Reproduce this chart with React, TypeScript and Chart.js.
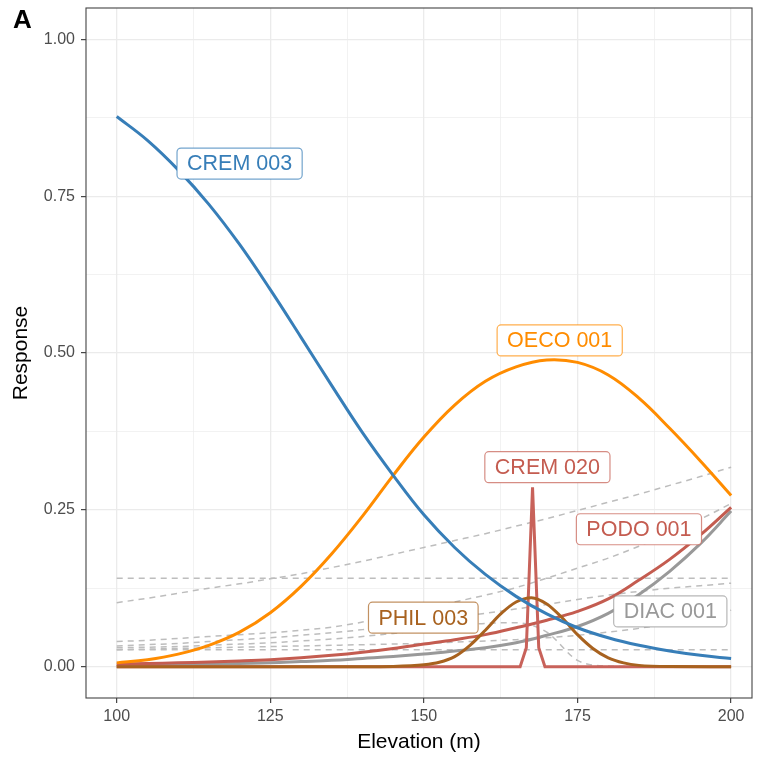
import React, { useEffect, useRef } from 'react';
import { Chart, registerables } from 'chart.js';

Chart.register(...registerables);

const FONT = '"Liberation Sans", Arial, sans-serif';

// x values (Elevation, m)
const elevation = [100, 105, 110, 115, 120, 125, 130, 135, 140, 145, 150, 155, 160, 165, 170, 175, 180, 185, 190, 195, 200];

// Highlighted species responses
const crem003 = [0.877, 0.839, 0.792, 0.737, 0.673, 0.601, 0.525, 0.448, 0.373, 0.305, 0.242, 0.19, 0.147, 0.112, 0.084, 0.062, 0.046, 0.034, 0.025, 0.018, 0.013];
const oeco001 = [0.006, 0.011, 0.02, 0.034, 0.055, 0.086, 0.128, 0.18, 0.24, 0.305, 0.366, 0.417, 0.455, 0.478, 0.489, 0.485, 0.465, 0.428, 0.38, 0.328, 0.273];
const podo001 = [0.004, 0.005, 0.006, 0.0075, 0.009, 0.011, 0.014, 0.018, 0.023, 0.029, 0.036, 0.043, 0.051, 0.062, 0.074, 0.088, 0.108, 0.138, 0.171, 0.21, 0.254];
const diac001 = [0.001, 0.002, 0.003, 0.004, 0.005, 0.006, 0.008, 0.01, 0.013, 0.016, 0.02, 0.025, 0.03, 0.038, 0.05, 0.064, 0.085, 0.115, 0.152, 0.196, 0.248];

const philElevation = [100, 140, 145, 150, 152.5, 155, 157.5, 160, 162.5, 165, 167.5, 170, 172.5, 175, 177.5, 180, 182.5, 185, 190, 200];
const phil003 = [0, 0, 0.0004, 0.003, 0.007, 0.016, 0.034, 0.058, 0.084, 0.103, 0.11, 0.1, 0.078, 0.051, 0.029, 0.014, 0.006, 0.002, 0.0002, 0];

const crem020Elevation = [100, 165.66, 166.67, 167.68, 168.69, 169.7, 200];
const crem020 = [0, 0, 0.03, 0.286, 0.03, 0, 0];

// Other species (grey dashed)
const otherA = [0.141, 0.141, 0.141, 0.141, 0.141, 0.141, 0.141, 0.141, 0.141, 0.141, 0.141, 0.141, 0.141, 0.141, 0.141, 0.141, 0.141, 0.141, 0.141, 0.141, 0.141];
const otherB = [0.102, 0.109, 0.117, 0.125, 0.132, 0.14, 0.148, 0.158, 0.168, 0.179, 0.19, 0.201, 0.212, 0.224, 0.236, 0.249, 0.262, 0.275, 0.289, 0.303, 0.318];
const otherC = [0.04, 0.042, 0.045, 0.048, 0.051, 0.054, 0.058, 0.063, 0.071, 0.081, 0.092, 0.103, 0.114, 0.126, 0.141, 0.157, 0.173, 0.192, 0.212, 0.235, 0.26];
const otherD = [0.033, 0.035, 0.037, 0.04, 0.043, 0.046, 0.05, 0.054, 0.059, 0.065, 0.071, 0.078, 0.085, 0.092, 0.099, 0.107, 0.114, 0.12, 0.125, 0.129, 0.133];
const otherE = [0.027, 0.027, 0.027, 0.027, 0.027, 0.027, 0.027, 0.027, 0.027, 0.027, 0.027, 0.027, 0.027, 0.027, 0.027, 0.027, 0.027, 0.027, 0.027, 0.027, 0.027];
const otherF = [0.03, 0.031, 0.032, 0.034, 0.036, 0.038, 0.041, 0.044, 0.048, 0.053, 0.058, 0.064, 0.069, 0.07, 0.055, 0.01, 0.001, 0, 0, 0, 0];
const otherG = [0.027, 0.028, 0.029, 0.03, 0.031, 0.032, 0.033, 0.034, 0.035, 0.036, 0.037, 0.039, 0.041, 0.043, 0.046, 0.05, 0.055, 0.061, 0.069, 0.078, 0.09];

// Curve labels
const labelNames = ['CREM 003', 'OECO 001', 'CREM 020', 'PODO 001', 'PHIL 003', 'DIAC 001'];
const labelX = [120.0, 172.1, 170.1, 185.0, 149.9, 190.1];
const labelY = [0.802, 0.52, 0.318, 0.219, 0.078, 0.088];
const labelColors = ['#377EB8', '#FF8C00', '#C45C50', '#C45C50', '#A8621F', '#999999'];

const xTicks = [100, 125, 150, 175, 200];
const yTicks = [0, 0.25, 0.5, 0.75, 1];

const isMajor = (v: number, list: number[]) => list.some((t) => Math.abs(t - v) < 1e-6);

const pts = (xs: number[], ys: number[]) => xs.map((x, i) => ({ x, y: ys[i] }));

const decorPlugin = {
  id: 'decor',
  afterDatasetsDraw(chart: any) {
    const { ctx, chartArea, scales } = chart;
    const x = scales.x;
    const y = scales.y;
    ctx.save();
    ctx.strokeStyle = '#444444';
    ctx.lineWidth = 1.1;
    ctx.strokeRect(chartArea.left, chartArea.top, chartArea.right - chartArea.left, chartArea.bottom - chartArea.top);
    ctx.font = `21.5px ${FONT}`;
    ctx.textAlign = 'center';
    ctx.textBaseline = 'middle';
    labelNames.forEach((name, i) => {
      const cx = x.getPixelForValue(labelX[i]);
      const cy = y.getPixelForValue(labelY[i]);
      const w = ctx.measureText(name).width + 20;
      const h = 31;
      const l = cx - w / 2;
      const t = cy - h / 2;
      const r = 4;
      ctx.beginPath();
      ctx.moveTo(l + r, t);
      ctx.lineTo(l + w - r, t);
      ctx.arcTo(l + w, t, l + w, t + r, r);
      ctx.lineTo(l + w, t + h - r);
      ctx.arcTo(l + w, t + h, l + w - r, t + h, r);
      ctx.lineTo(l + r, t + h);
      ctx.arcTo(l, t + h, l, t + h - r, r);
      ctx.lineTo(l, t + r);
      ctx.arcTo(l, t, l + r, t, r);
      ctx.closePath();
      ctx.fillStyle = '#ffffff';
      ctx.fill();
      ctx.globalAlpha = 0.7;
      ctx.strokeStyle = labelColors[i];
      ctx.lineWidth = 1.2;
      ctx.stroke();
      ctx.globalAlpha = 1;
      ctx.fillStyle = labelColors[i];
      ctx.fillText(name, cx, cy + 1);
    });
    ctx.textAlign = 'left';
    ctx.textBaseline = 'alphabetic';
    ctx.fillStyle = '#000000';
    ctx.font = `bold 26px ${FONT}`;
    ctx.fillText('A', 13, 28);
    ctx.restore();
  },
};

export default function App() {
  const ref = useRef<HTMLCanvasElement | null>(null);

  useEffect(() => {
    document.body.style.margin = '0';
    const canvas = ref.current;
    if (!canvas) return;

    const dashed = (data: number[]) => ({
      data: pts(elevation, data),
      borderColor: '#bdbdbd',
      borderWidth: 1.5,
      borderDash: [6, 5],
      cubicInterpolationMode: 'monotone' as const,
      pointRadius: 0,
      order: 20,
    });
    const smooth = (xs: number[], ys: number[], color: string, order: number) => ({
      data: pts(xs, ys),
      borderColor: color,
      borderWidth: 3,
      tension: 0.4,
      pointRadius: 0,
      order,
    });

    const chart = new Chart(canvas, {
      type: 'line',
      data: {
        datasets: [
          dashed(otherA),
          dashed(otherB),
          dashed(otherC),
          dashed(otherD),
          dashed(otherE),
          dashed(otherF),
          dashed(otherG),
          smooth(elevation, diac001, '#999999', 10),
          smooth(elevation, podo001, '#C45C50', 9),
          { data: pts(crem020Elevation, crem020), borderColor: '#C8625A', borderWidth: 3, tension: 0, pointRadius: 0, order: 8 },
          { data: pts(philElevation, phil003), borderColor: '#A8621F', borderWidth: 3, cubicInterpolationMode: 'monotone', pointRadius: 0, order: 7 },
          smooth(elevation, oeco001, '#FF8C00', 6),
          smooth(elevation, crem003, '#377EB8', 5),
        ] as any,
      },
      options: {
        animation: false,
        responsive: false,
        maintainAspectRatio: false,
        layout: { padding: { top: 8, right: 7, left: 0, bottom: 0 } },
        plugins: { legend: { display: false }, tooltip: { enabled: false } },
        elements: { point: { radius: 0 } },
        scales: {
          x: {
            type: 'linear',
            min: 95,
            max: 203.4,
            ticks: {
              stepSize: 12.5,
              includeBounds: false,
              autoSkip: false,
              maxRotation: 0,
              padding: 4,
              color: '#4d4d4d',
              font: { size: 16, family: FONT },
              callback: (v: any) => (isMajor(Number(v), xTicks) ? String(v) : ''),
            },
            grid: {
              color: '#ebebeb',
              lineWidth: (c: any) => (isMajor(c.tick?.value, xTicks) ? 1.3 : 0.65),
              tickLength: 5,
              tickWidth: 1.1,
              tickColor: (c: any) => (isMajor(c.tick?.value, xTicks) ? '#333333' : 'rgba(0,0,0,0)'),
            },
            border: { display: false },
            title: { display: true, text: 'Elevation (m)', color: '#000000', font: { size: 21, family: FONT }, padding: { top: 0, bottom: 4 } },
            afterFit: (s: any) => { s.height = 61; s.paddingLeft = 0; s.paddingRight = 0; },
          },
          y: {
            type: 'linear',
            min: -0.05,
            max: 1.05,
            ticks: {
              stepSize: 0.125,
              includeBounds: false,
              autoSkip: false,
              padding: 6,
              color: '#4d4d4d',
              font: { size: 16, family: FONT },
              callback: (v: any) => (isMajor(Number(v), yTicks) ? Number(v).toFixed(2) : ''),
            },
            grid: {
              color: '#ebebeb',
              lineWidth: (c: any) => (isMajor(c.tick?.value, yTicks) ? 1.3 : 0.65),
              tickLength: 5,
              tickWidth: 1.1,
              tickColor: (c: any) => (isMajor(c.tick?.value, yTicks) ? '#333333' : 'rgba(0,0,0,0)'),
            },
            border: { display: false },
            title: { display: true, text: 'Response', color: '#000000', font: { size: 21, family: FONT }, padding: { top: 9, bottom: 0 } },
            afterFit: (s: any) => { s.width = 86; s.paddingTop = 0; s.paddingBottom = 0; },
          },
        },
      } as any,
      plugins: [decorPlugin],
    });

    return () => chart.destroy();
  }, []);

  return (
    <div style={{ width: 759, height: 759 }}>
      <canvas ref={ref} width={759} height={759} style={{ display: 'block' }} />
    </div>
  );
}
